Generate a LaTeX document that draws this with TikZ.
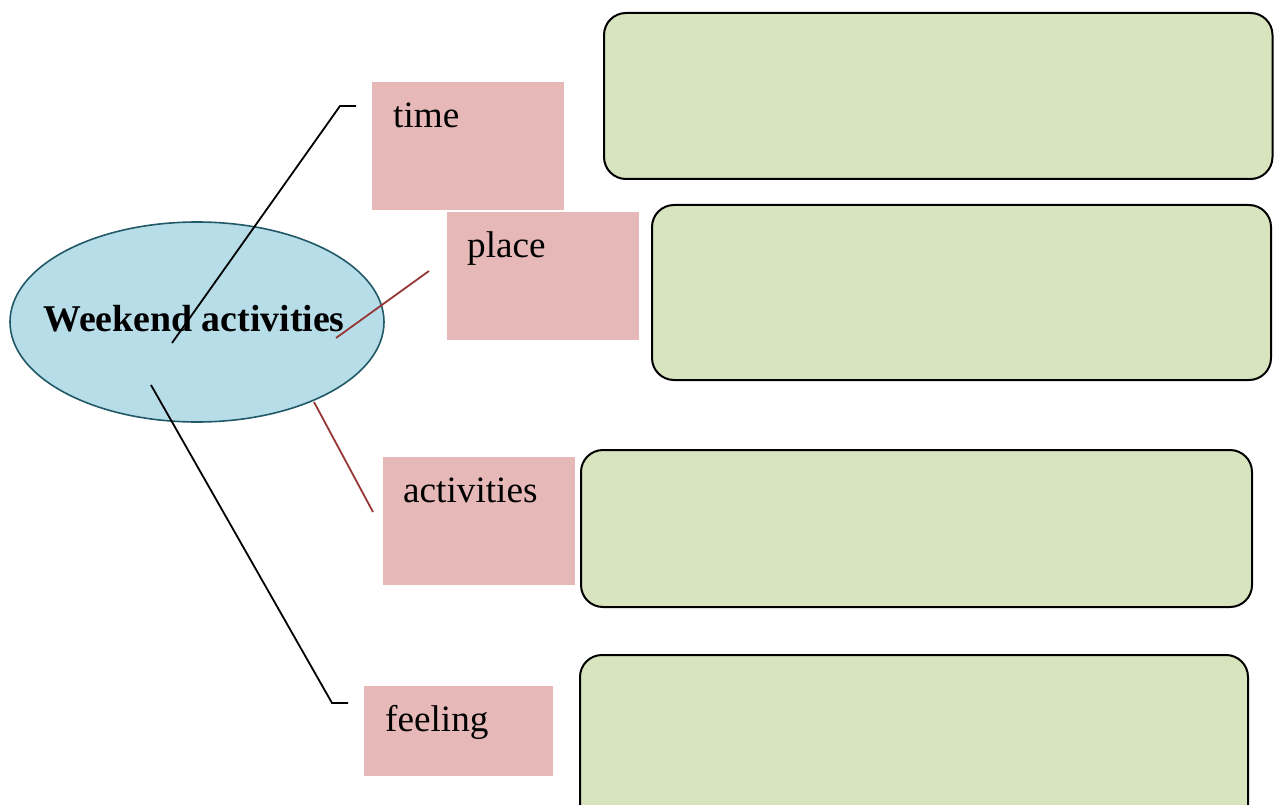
\documentclass[tikz,border=0pt]{standalone}
\usepackage{fontspec}
\setmainfont{Liberation Serif}
\usetikzlibrary{shapes.geometric}
\definecolor{ellfill}{HTML}{B7DDE8}
\definecolor{elldraw}{HTML}{215968}
\definecolor{pinkfill}{HTML}{E6B8B7}
\definecolor{greenfill}{HTML}{D7E4BD}
\definecolor{redline}{HTML}{953735}
\begin{document}
\begin{tikzpicture}[x=1pt,y=-1pt,
  pinkbox/.style={fill=pinkfill,draw=none,inner sep=0,anchor=north west},
  greenbox/.style={fill=greenfill,draw=black,line width=2pt,rounded corners=22pt},
  lbl/.style={anchor=base west,inner sep=0,font=\fontsize{37.2}{44}\selectfont},
  blackline/.style={draw=black,line width=1.8pt},
  redconn/.style={draw=redline,line width=1.8pt}]
\useasboundingbox (0,0) rectangle (1274,805);
\begin{scope}
\clip (0,0) rectangle (1274,805);
% green boxes
\draw[greenbox] (604,13) rectangle (1272.5,179);
\draw[greenbox] (652,205) rectangle (1271,380);
\draw[greenbox] (581,450) rectangle (1252,607);
\draw[greenbox] (580,655) rectangle (1248,830);
\end{scope}
% ellipse
\node[ellipse,fill=ellfill,draw=elldraw,line width=1.6pt,minimum width=374pt,minimum height=200pt,inner sep=0] (ell) at (197,322) {};
\node[anchor=base,inner sep=0,font=\fontsize{37.8}{44}\selectfont\bfseries] (title) at (194,331) {Weekend activities};
% pink boxes
\node[pinkbox,minimum width=192pt,minimum height=128pt] (timebox) at (372,82) {};
\node[pinkbox,minimum width=192pt,minimum height=128pt] (placebox) at (447,212) {};
\node[pinkbox,minimum width=192pt,minimum height=128pt] (actbox) at (383,457) {};
\node[pinkbox,minimum width=189pt,minimum height=90pt] (feelbox) at (364,686) {};
\node[lbl] (timetxt) at (393,128) {time};
\node[lbl] (placetxt) at (467,258) {place};
\node[lbl] (acttxt) at (403,502) {activities};
\node[lbl] (feeltxt) at (385,731) {feeling};
% connector points
\coordinate (a1) at (172,343);
\coordinate (a2) at (340,106);
\coordinate (a3) at (356,106);
\coordinate (b1) at (336,338);
\coordinate (b2) at (429,271);
\coordinate (c1) at (314,402);
\coordinate (c2) at (373,512);
\coordinate (d1) at (151,385);
\coordinate (d2) at (332,703);
\coordinate (d3) at (348,703);
\draw[blackline] (a1) -- (a2) -- (a3);
\draw[redconn] (b1) -- (b2);
\draw[redconn] (c1) -- (c2);
\draw[blackline] (d1) -- (d2) -- (d3);
\end{tikzpicture}
\end{document}
